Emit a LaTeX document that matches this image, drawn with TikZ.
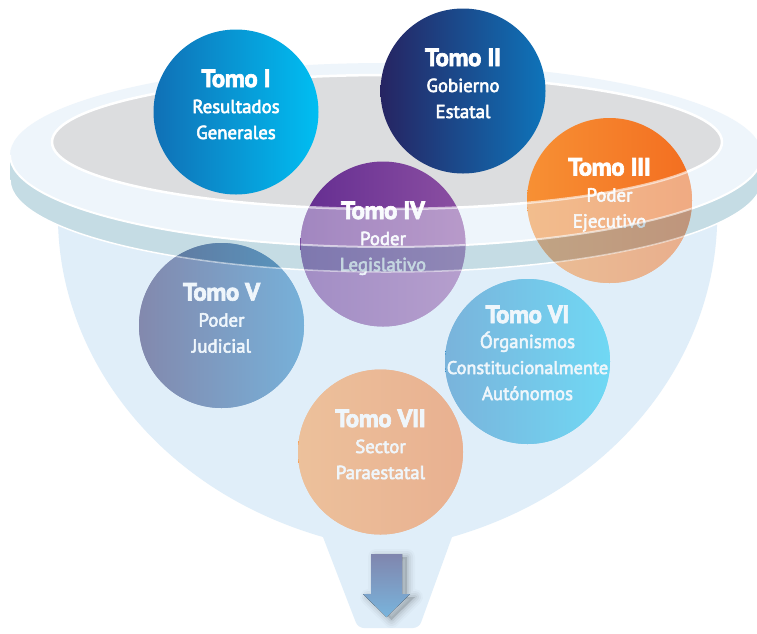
\documentclass[tikz,border=0pt]{standalone}
\usepackage{fontspec}
\setmainfont{PT Sans}
\newfontfamily\ttlfont[BoldFeatures={FakeBold=2.5}, LetterSpace=-2]{PT Sans}
\newfontfamily\subfont[FakeBold=3]{PT Sans}
\begin{document}
\begin{tikzpicture}[x=1pt,y=1pt]
\definecolor{topsurf}{RGB}{238,245,251}
\definecolor{bandcol}{RGB}{197,220,228}
\definecolor{bandov}{RGB}{149,182,200}
\definecolor{rimgray}{RGB}{220,221,223}
\definecolor{bodycol}{RGB}{224,238,249}
\definecolor{tIL}{RGB}{16,112,182}
\definecolor{tIR}{RGB}{0,190,242}
\definecolor{tIIL}{RGB}{38,36,98}
\definecolor{tIIR}{RGB}{14,116,186}
\definecolor{tIIIL}{RGB}{247,144,52}
\definecolor{tIIIR}{RGB}{243,110,32}
\definecolor{tIVL}{RGB}{100,45,145}
\definecolor{tIVR}{RGB}{140,80,162}
\definecolor{tVIL}{RGB}{20,121,190}
\definecolor{tVIR}{RGB}{0,195,240}
\definecolor{tVIIL}{RGB}{250,148,62}
\definecolor{tVIIR}{RGB}{243,115,40}
\definecolor{arrT}{RGB}{128,134,174}
\definecolor{arrB}{RGB}{121,180,220}
\tikzset{
  bodyshape/.style={insert path={(58.1,-225) .. controls (62,-360) and (160,-490) .. (323,-537)
     [rounded corners=6] -- (358,-628) -- (419,-628) [sharp corners] -- (452,-537)
     .. controls (615,-490) and (713,-360) .. (717.1,-223.6)
     arc[start angle=331.7, end angle=209.3, x radius=376, y radius=92] -- cycle}},
  bandshape/.style={insert path={(10,-155) -- (10,-180)
     arc[start angle=180, end angle=360, x radius=376, y radius=92] -- (762,-155)
     arc[start angle=0, end angle=-180, x radius=376, y radius=92] -- cycle}},
  arrowshape/.style={insert path={(371,-554) -- (402,-554) -- (402,-594) -- (410,-594)
     -- (386.5,-617) -- (363,-594) -- (371,-594) -- cycle}},
  tomo/.style={circle, inner sep=0pt, minimum size=165pt},
  ttl/.style={text=white, font=\fontsize{25}{25}\selectfont\ttlfont\bfseries, anchor=base, inner sep=0pt},
  sub/.style={text=white, font=\fontsize{18.8}{18.8}\selectfont\subfont, anchor=base, inner sep=0pt}
}
\useasboundingbox (0,0) rectangle (757,-633);
\fill[white] (0,0) rectangle (757,-633);
\begin{scope}
\clip (0,0) rectangle (757,-633);
% funnel body
\fill[bodycol, bodyshape];
% rim band
\fill[bandcol, bandshape];
\draw[white, line width=1.5] (10,-180) arc[start angle=180, end angle=360, x radius=376, y radius=92];
% rim top surface
\fill[topsurf] (386,-155) ellipse[x radius=376, y radius=92];
\draw[white, line width=2] (10,-155) arc[start angle=180, end angle=360, x radius=376, y radius=92];
% inner gray
\filldraw[fill=rimgray, draw=white, line width=2.5] (387,-142) ellipse[x radius=335, y radius=67];

% circles
\node[tomo, left color=tIL, right color=tIR] (c1) at (236,-112) {};
\node[ttl] (c1a) at ([yshift=25pt]c1.center) {Tomo I};
\node[sub] (c1b) at ([yshift=-1pt]c1.center) {Resultados};
\node[sub] (c1c) at ([yshift=-27pt]c1.center) {Generales};

\node[tomo, left color=tIIL, right color=tIIR] (c2) at (463,-91) {};
\node[ttl] (c2a) at ([yshift=25pt]c2.center) {Tomo II};
\node[sub] (c2b) at ([yshift=-1pt]c2.center) {Gobierno};
\node[sub] (c2c) at ([yshift=-27pt]c2.center) {Estatal};

\node[tomo, left color=tIIIL, right color=tIIIR] (c3) at (609.5,-200.5) {};
\node[ttl] (c3a) at ([yshift=25pt]c3.center) {Tomo III};
\node[sub] (c3b) at ([yshift=-1pt]c3.center) {Poder};
\node[sub] (c3c) at ([yshift=-27pt]c3.center) {Ejecutivo};

\node[tomo, left color=tIVL, right color=tIVR] (c4) at (383,-244) {};
\node[ttl] (c4a) at ([yshift=25pt]c4.center) {Tomo IV};
\node[sub] (c4b) at ([yshift=-1pt]c4.center) {Poder};
\node[sub] (c4c) at ([yshift=-27pt]c4.center) {Legislativo};

\node[tomo, left color=tIIL, right color=tIIR] (c5) at (221.5,-325.5) {};
\node[ttl] (c5a) at ([yshift=25pt]c5.center) {Tomo V};
\node[sub] (c5b) at ([yshift=-1pt]c5.center) {Poder};
\node[sub] (c5c) at ([yshift=-27pt]c5.center) {Judicial};

\node[tomo, left color=tVIL, right color=tVIR] (c6) at (527.5,-361.5) {};
\node[ttl] (c6a) at ([yshift=38.5pt]c6.center) {Tomo VI};
\node[sub] (c6b) at ([yshift=13.5pt]c6.center) {Órganismos};
\node[sub, font=\fontsize{18.3}{18.3}\selectfont\subfont] (c6c) at ([yshift=-12.5pt]c6.center) {Constitucionalmente};
\node[sub] (c6d) at ([yshift=-38.5pt]c6.center) {Autónomos};

\node[tomo, left color=tVIIL, right color=tVIIR] (c7) at (380.5,-452) {};
\node[ttl] (c7a) at ([yshift=25pt]c7.center) {Tomo VII};
\node[sub] (c7b) at ([yshift=-1pt]c7.center) {Sector};
\node[sub] (c7c) at ([yshift=-27pt]c7.center) {Paraestatal};

% translucent front of the funnel over the circles
\begin{scope}
\clip (c1.center) circle[radius=82.5] (c2.center) circle[radius=82.5]
      (c3.center) circle[radius=82.5] (c4.center) circle[radius=82.5]
      (c5.center) circle[radius=82.5] (c6.center) circle[radius=82.5]
      (c7.center) circle[radius=82.5];
\fill[bodycol, fill opacity=0.5, bodyshape];
\fill[bandov, fill opacity=0.55, bandshape];
\begin{scope}
\clip (0,-142) rectangle (757,-260);
\fill[topsurf, fill opacity=0.45, even odd rule] (386,-155) ellipse[x radius=376, y radius=92]
      (387,-142) ellipse[x radius=335, y radius=67];
\end{scope}
\draw[white, opacity=0.6, line width=2.5] (52,-142) arc[start angle=180, end angle=360, x radius=335, y radius=67];
\draw[white, opacity=0.6, line width=2] (10,-155) arc[start angle=180, end angle=360, x radius=376, y radius=92];
\draw[white, opacity=0.5, line width=1.5] (10,-180) arc[start angle=180, end angle=360, x radius=376, y radius=92];
\end{scope}

% arrow with soft shadow
\begin{scope}[shift={(5,-3)}]
\foreach \w/\o in {16/0.02, 12/0.03, 8/0.04, 4/0.05}
  \filldraw[fill=black, draw=black, opacity=\o, line width=\w, line join=round, arrowshape];
\end{scope}
\fill[top color=arrT, bottom color=arrB, arrowshape];
\end{scope}
\end{tikzpicture}
\end{document}
